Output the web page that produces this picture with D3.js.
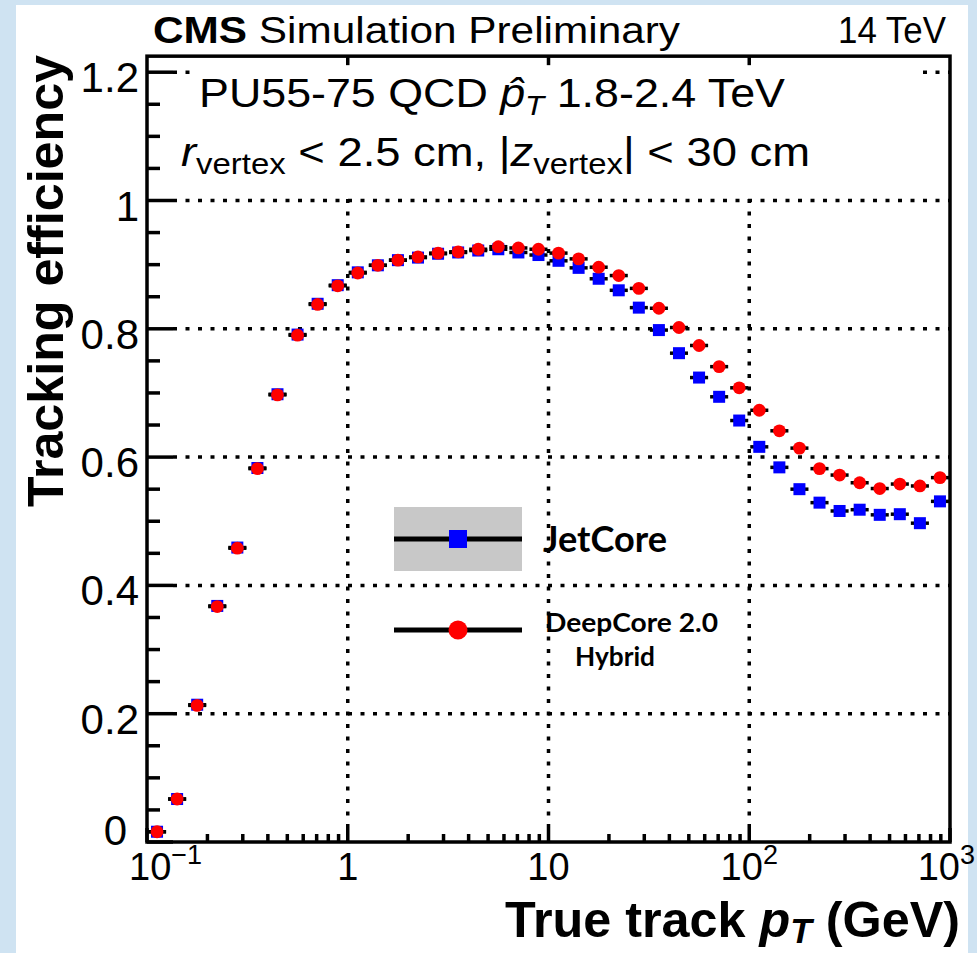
<!DOCTYPE html>
<html>
<head>
<meta charset="utf-8">
<script src="https://cdn.jsdelivr.net/npm/d3@7"></script>
<style>
  html, body { margin: 0; padding: 0; background: #cfe3f2; }
  svg { display: block; }
</style>
</head>
<body>
<svg id="chart" width="977" height="953"></svg>
<script>
// pT bin edges (GeV), ten logarithmic bins per decade
const binEdges = [
  0.1, 0.1259, 0.1585, 0.1995, 0.2512, 0.3162, 0.3981, 0.5012, 0.6310, 0.7943,
  1, 1.259, 1.585, 1.995, 2.512, 3.162, 3.981, 5.012, 6.310, 7.943,
  10, 12.59, 15.85, 19.95, 25.12, 31.62, 39.81, 50.12, 63.10, 79.43,
  100, 125.9, 158.5, 199.5, 251.2, 316.2, 398.1, 501.2, 631.0, 794.3,
  1000
];

// Tracking efficiency per bin
const jetCore = [
  0.016, 0.067, 0.214, 0.368, 0.459, 0.583, 0.698, 0.791, 0.839, 0.868,
  0.888, 0.899, 0.907, 0.911, 0.917, 0.919, 0.922, 0.924, 0.919, 0.915,
  0.906, 0.895, 0.878, 0.860, 0.833, 0.798, 0.762, 0.724, 0.694, 0.657,
  0.616, 0.584, 0.550, 0.529, 0.516, 0.518, 0.510, 0.511, 0.497, 0.531
];
const deepCore = [
  0.016, 0.067, 0.213, 0.367, 0.458, 0.582, 0.697, 0.790, 0.838, 0.867,
  0.887, 0.899, 0.907, 0.912, 0.918, 0.920, 0.924, 0.928, 0.926, 0.924,
  0.918, 0.909, 0.896, 0.883, 0.863, 0.832, 0.802, 0.774, 0.741, 0.708,
  0.673, 0.641, 0.614, 0.582, 0.572, 0.560, 0.551, 0.558, 0.555, 0.568
];

const yMajorTicks = [0, 0.2, 0.4, 0.6, 0.8, 1, 1.2];
const yTickLabels = ["0", "0.2", "0.4", "0.6", "0.8", "1", "1.2"];
const xMajorTicks = [0.1, 1, 10, 100, 1000];
const xTickBase = ["10", "1", "10", "10", "10"];
const xTickExp = ["\u22121", "", "", "2", "3"];
const xGridValues = [1, 10, 100];
const legendLabels = ["JetCore", "DeepCore 2.0", "Hybrid"];

const svg = d3.select("#chart");
const FONT = "'Liberation Sans', Arial, Helvetica, sans-serif";
const LEG_FONT = "Lato, 'Open Sans', sans-serif";

// Scales
const x = d3.scaleLog().domain([0.1, 1000]).range([147, 950]);
const y = d3.scaleLinear().domain([0, 1]).range([842, 200.5]);
const yTop = 1.225;

// Page: white sheet on light-blue surround
svg.append("rect").attr("x", 0).attr("y", 0).attr("width", 977).attr("height", 953).attr("fill", "#cfe3f2");
svg.append("rect").attr("x", 16).attr("y", 5).attr("width", 952).attr("height", 948).attr("fill", "#ffffff");

// Dotted grid
const grid = svg.append("g").attr("stroke", "#000").attr("stroke-width", 3.5)
  .attr("stroke-dasharray", "4 8.5").attr("fill", "none");
grid.selectAll("line.h").data(yMajorTicks.filter(d => d > 0)).join("line")
  .attr("class", "h")
  .attr("x1", x(0.1) + 26).attr("x2", x(1000))
  .attr("y1", d => y(d)).attr("y2", d => y(d));
grid.selectAll("line.v").data(xGridValues).join("line")
  .attr("class", "v")
  .attr("x1", d => x(d)).attr("x2", d => x(d))
  .attr("y1", y(0) - 14).attr("y2", y(yTop));

// Blank panel behind the header text block
svg.append("rect").attr("x", 190).attr("y", y(yTop) + 2)
  .attr("width", 730).attr("height", y(1) - 3 - (y(yTop) + 2)).attr("fill", "#ffffff");

// Data
const bins = d3.range(jetCore.length).map(i => ({
  lo: binEdges[i], hi: binEdges[i + 1], c: Math.sqrt(binEdges[i] * binEdges[i + 1]),
  jc: jetCore[i], dc: deepCore[i]
}));

const plot = svg.append("g");
plot.append("g").attr("stroke", "#000").attr("stroke-width", 3.5)
  .selectAll("line").data(bins).join("line")
  .attr("x1", d => x(d.lo) + 1).attr("x2", d => x(d.hi) - 1)
  .attr("y1", d => y(d.jc)).attr("y2", d => y(d.jc));
plot.append("g").attr("stroke", "#000").attr("stroke-width", 3.5)
  .selectAll("line").data(bins).join("line")
  .attr("x1", d => x(d.lo) + 1).attr("x2", d => x(d.hi) - 1)
  .attr("y1", d => y(d.dc)).attr("y2", d => y(d.dc));

const sq = 12;
plot.append("g").attr("fill", "#0000ff")
  .selectAll("rect").data(bins).join("rect")
  .attr("x", d => x(d.c) - sq / 2).attr("y", d => y(d.jc) - sq / 2)
  .attr("width", sq).attr("height", sq);
plot.append("g").attr("fill", "#ff0000")
  .selectAll("circle").data(bins).join("circle")
  .attr("cx", d => x(d.c)).attr("cy", d => y(d.dc)).attr("r", 6.4);

// Axes (ticks pointing into the frame)
const axes = svg.append("g").attr("stroke", "#000").attr("stroke-width", 3.5);
axes.selectAll("line.ymaj").data(yMajorTicks).join("line").attr("class", "ymaj")
  .attr("x1", x(0.1)).attr("x2", x(0.1) + 26)
  .attr("y1", d => y(d)).attr("y2", d => y(d));
axes.selectAll("line.ymin").data(d3.range(0, 1.2001, 0.05).filter(v => Math.abs(v * 5 - Math.round(v * 5)) > 1e-6)).join("line").attr("class", "ymin")
  .attr("x1", x(0.1)).attr("x2", x(0.1) + 13)
  .attr("y1", d => y(d)).attr("y2", d => y(d));
axes.selectAll("line.xmin").data(x.ticks().filter(v => !xMajorTicks.some(m => Math.abs(m - v) / m < 1e-6))).join("line").attr("class", "xmin")
  .attr("x1", d => x(d)).attr("x2", d => x(d))
  .attr("y1", y(0)).attr("y2", y(0) - 8);
axes.selectAll("line.xmaj").data(xMajorTicks).join("line").attr("class", "xmaj")
  .attr("x1", d => x(d)).attr("x2", d => x(d))
  .attr("y1", y(0)).attr("y2", y(0) - 14);
axes.selectAll("line.xtop").data(xGridValues).join("line").attr("class", "xtop")
  .attr("x1", d => x(d)).attr("x2", d => x(d))
  .attr("y1", y(yTop)).attr("y2", y(yTop) + 9);

// Frame
svg.append("rect")
  .attr("x", x(0.1)).attr("y", y(yTop))
  .attr("width", x(1000) - x(0.1)).attr("height", y(0) - y(yTop))
  .attr("fill", "none").attr("stroke", "#000").attr("stroke-width", 3.5);

// Y tick labels (the label at the origin is nudged left, clear of the x labels)
svg.append("g").attr("font-family", FONT).attr("font-size", 42).attr("text-anchor", "end")
  .selectAll("text").data(yMajorTicks).join("text")
  .attr("x", d => d === 0 ? 127 : 139)
  .attr("y", d => Math.min(y(d) + 20, y(0) + 3))
  .text((d, i) => yTickLabels[i]);

// X tick labels: centred on the tick, kept inside the page
const xl = svg.append("g").attr("font-family", FONT).attr("font-size", 38)
  .selectAll("text").data(xMajorTicks).join("text")
  .attr("x", d => x(d)).attr("y", 880);
xl.append("tspan").text((d, i) => xTickBase[i]);
xl.append("tspan").attr("font-size", 27).attr("dy", -16).text((d, i) => xTickExp[i]);
xl.each(function (d) {
  const w = this.getComputedTextLength();
  let left = x(d) - w / 2;
  left = Math.max(129, Math.min(left, 975 - w));
  d3.select(this).attr("x", left);
});

// Axis titles
svg.append("text")
  .attr("transform", "translate(63,281) rotate(-90)")
  .attr("text-anchor", "middle").attr("font-family", FONT).attr("font-weight", "bold")
  .attr("font-size", 50).attr("textLength", 452).attr("lengthAdjust", "spacingAndGlyphs")
  .text("Tracking efficiency");

const xt = svg.append("text").attr("x", 505).attr("y", 937)
  .attr("font-family", FONT).attr("font-weight", "bold").attr("font-size", 50)
  .attr("textLength", 455).attr("lengthAdjust", "spacingAndGlyphs");
xt.append("tspan").text("True track ");
xt.append("tspan").attr("font-style", "italic").text("p");
xt.append("tspan").attr("font-style", "italic").attr("font-size", 35).attr("dy", 6).text("T");
xt.append("tspan").attr("dy", -6).text(" (GeV)");

// Header
const hdr = svg.append("text").attr("x", 153).attr("y", 43)
  .attr("font-family", FONT).attr("font-size", 36)
  .attr("textLength", 527).attr("lengthAdjust", "spacingAndGlyphs");
hdr.append("tspan").attr("font-weight", "bold").text("CMS");
hdr.append("tspan").text(" Simulation Preliminary");

svg.append("text").attr("x", 838).attr("y", 43)
  .attr("font-family", FONT).attr("font-size", 36)
  .attr("textLength", 108).attr("lengthAdjust", "spacingAndGlyphs")
  .text("14 TeV");

const l1 = svg.append("text").attr("x", 199).attr("y", 107)
  .attr("font-family", FONT).attr("font-size", 40)
  .attr("textLength", 586).attr("lengthAdjust", "spacingAndGlyphs");
l1.append("tspan").text("PU55-75 QCD ");
l1.append("tspan").attr("font-style", "italic").text("p\u0302");
l1.append("tspan").attr("font-style", "italic").attr("font-size", 28).attr("dy", 8).text("T");
l1.append("tspan").attr("dy", -8).text(" 1.8-2.4 TeV");

const l2 = svg.append("text").attr("x", 181).attr("y", 166)
  .attr("font-family", FONT).attr("font-size", 40)
  .attr("textLength", 629).attr("lengthAdjust", "spacingAndGlyphs");
l2.append("tspan").attr("font-style", "italic").text("r");
l2.append("tspan").attr("font-size", 29).attr("dy", 8).text("vertex");
l2.append("tspan").attr("dy", -8).text(" < 2.5 cm, |");
l2.append("tspan").attr("font-style", "italic").text("z");
l2.append("tspan").attr("font-size", 29).attr("dy", 8).text("vertex");
l2.append("tspan").attr("dy", -8).text("| < 30 cm");

// Legend
const leg = svg.append("g");
leg.append("rect").attr("x", 394).attr("y", 507).attr("width", 128).attr("height", 64).attr("fill", "#c8c8c8");
leg.append("line").attr("x1", 394).attr("x2", 522).attr("y1", 539).attr("y2", 539).attr("stroke", "#000").attr("stroke-width", 5);
leg.append("rect").attr("x", 458 - 9).attr("y", 539 - 9).attr("width", 18).attr("height", 18).attr("fill", "#0000ff");
leg.append("line").attr("x1", 394).attr("x2", 522).attr("y1", 630).attr("y2", 630).attr("stroke", "#000").attr("stroke-width", 5);
leg.append("circle").attr("cx", 458).attr("cy", 630).attr("r", 9.5).attr("fill", "#ff0000");

leg.append("text").attr("x", 543).attr("y", 552)
  .attr("font-family", LEG_FONT).attr("font-weight", "bold").attr("font-size", 36)
  .attr("textLength", 124).attr("lengthAdjust", "spacingAndGlyphs")
  .text(legendLabels[0]);
leg.append("text").attr("x", 545).attr("y", 632)
  .attr("font-family", LEG_FONT).attr("font-weight", "bold").attr("font-size", 27)
  .attr("textLength", 173).attr("lengthAdjust", "spacingAndGlyphs")
  .text(legendLabels[1]);
leg.append("text").attr("x", 575).attr("y", 666)
  .attr("font-family", LEG_FONT).attr("font-weight", "bold").attr("font-size", 27)
  .attr("textLength", 80).attr("lengthAdjust", "spacingAndGlyphs")
  .text(legendLabels[2]);
</script>
</body>
</html>
